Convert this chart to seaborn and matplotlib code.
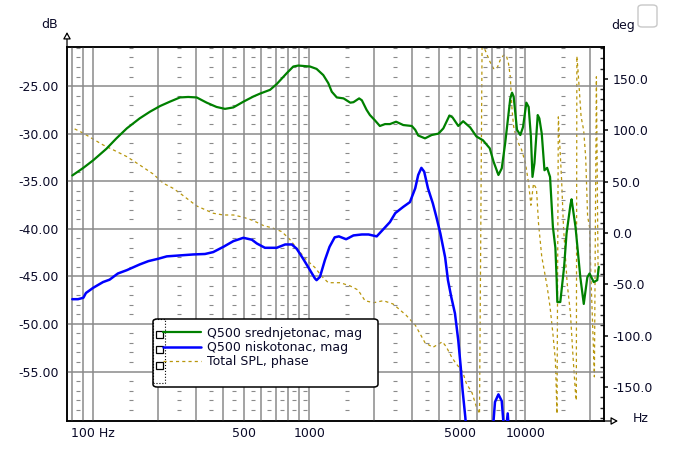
import numpy as np
import pandas as pd
import matplotlib
matplotlib.use("Agg")
import matplotlib.pyplot as plt
from matplotlib.patches import FancyBboxPatch, Rectangle
import seaborn as sns

# Q500 srednjetonac, mag (green, dB)
mid_freq = [80, 90, 100, 115, 128, 143, 164, 183, 204, 226,
            252, 275, 301, 335, 372, 407, 445, 495, 551, 591,
            658, 706, 786, 843, 889, 1007, 1080, 1160, 1224, 1270,
            1340, 1440, 1547, 1600, 1700, 1750, 1840, 1907, 2010, 2120,
            2240, 2360, 2520, 2720, 2980, 3090, 3190, 3430, 3680, 3960,
            4170, 4450, 4600, 4890, 5150, 5550, 5930, 6360, 6840, 7120,
            7500, 7770, 8060, 8510, 8670, 8820, 9140, 9470, 9750, 10100,
            10350, 10600, 10780, 11010, 11400, 11600, 11900, 12250, 12600, 13000,
            13400, 13760, 13950, 14050, 14500, 15100, 15500, 16150, 16350, 17050,
            17950, 18620, 19340, 19800, 20700, 21500, 21860]
mid_db = [-34.4, -33.6, -32.8, -31.6, -30.5, -29.45, -28.4, -27.7, -27.1, -26.65,
          -26.2, -26.15, -26.2, -26.75, -27.2, -27.4, -27.25, -26.65, -26.1, -25.8,
          -25.4, -24.8, -23.65, -22.95, -22.85, -22.95, -23.2, -23.85, -24.7, -25.6,
          -26.2, -26.3, -26.75, -26.7, -26.3, -26.5, -27.5, -28.05, -28.6, -29.2,
          -29.0, -29.0, -28.75, -29.1, -29.2, -29.6, -30.2, -30.5, -30.15, -30.0,
          -29.45, -28.1, -28.3, -29.2, -28.7, -29.35, -30.3, -30.7, -31.55, -32.95,
          -34.35, -33.65, -31.0, -26.3, -25.7, -26.1, -29.6, -30.15, -29.3, -26.75,
          -27.2, -30.3, -34.55, -33.1, -28.05, -28.4, -30.0, -33.85, -33.6, -34.55,
          -39.8, -42.0, -45.4, -47.7, -47.7, -44.0, -40.5, -37.5, -36.9, -39.8,
          -45.1, -47.9, -45.1, -44.7, -45.6, -45.4, -44.0]

# Q500 niskotonac, mag (blue, dB)
low_freq = [80, 85, 90, 92.5, 100, 111, 119, 130, 143, 164,
            180, 200, 219, 252, 290, 329, 359, 400, 445, 495,
            542, 572, 623, 706, 773, 830, 874, 936, 1007, 1060,
            1080, 1120, 1180, 1240, 1310, 1370, 1480, 1600, 1750, 1880,
            2050, 2200, 2360, 2500, 2720, 2920, 3090, 3190, 3300, 3400,
            3540, 3730, 3870, 4040, 4250, 4380, 4540, 4720, 4890, 5020,
            5120, 5270, 5400, 6000, 6800, 7100, 7230, 7500, 7770, 7920,
            8100, 8280, 8400, 9000]
low_db = [-47.4, -47.4, -47.25, -46.75, -46.2, -45.6, -45.35, -44.7, -44.35, -43.75,
          -43.4, -43.15, -42.9, -42.8, -42.7, -42.65, -42.45, -41.9, -41.3, -40.95,
          -41.15, -41.55, -42.0, -42.0, -41.65, -41.65, -42.1, -43.15, -44.35, -45.2,
          -45.4, -45.05, -43.3, -41.9, -40.9, -40.8, -41.1, -40.7, -40.6, -40.6,
          -40.8, -40.05, -39.3, -38.35, -37.7, -37.2, -35.75, -34.35, -33.6, -34.0,
          -35.75, -37.35, -38.75, -40.5, -43.0, -45.4, -47.2, -48.9, -51.75, -54.55,
          -57.0, -59.8, -63.0, -75.0, -66.0, -60.5, -58.2, -57.4, -58.1, -60.5,
          -61.5, -59.4, -61.5, -75.0]

# Total SPL, phase (gold dashed, deg)
phase_freq = [82, 90, 100, 111, 124, 143, 164, 189, 211, 234,
              252, 301, 359, 400, 445, 495, 551, 612, 681, 745,
              811, 874, 971, 1060, 1140, 1224, 1390, 1547, 1680, 1810,
              1980, 2200, 2440, 2800, 3090, 3430, 3730, 4130, 4300, 4540,
              4750, 5120, 5330, 5660, 5930, 6130, 6300, 6510, 6840, 7120,
              7380, 7650, 7920, 8150, 8350, 8510, 8670, 8820, 9150, 9600,
              10000, 10350, 10600, 10900, 11250, 11500, 11900, 12600, 13000, 13400,
              13760, 14000, 14200, 14700, 15000, 15600, 16150, 16600, 17050, 17200,
              17300, 17500, 18100, 18600, 19000, 19400, 19800, 20100, 20400, 20600,
              20850, 21300, 21700]
phase_deg = [101.3, 97.1, 91.3, 85.7, 80.8, 74.3, 66.2, 57.5, 48.4, 43.5,
             38.7, 26.3, 19.2, 17.5, 17.5, 15.3, 12.0, 7.3, 4.6, 1.3,
             -6.1, -14.9, -26.3, -33.5, -42.0, -48.4, -48.4, -51.6, -55.5, -65.9,
             -67.9, -65.9, -69.1, -79.9, -89.6, -106.8, -111.3, -105.9, -110.7, -120.2,
             -126.5, -135.1, -146.4, -155.5, -169.2, -176.0, 181.0, 178.0, 167.0, 160.0,
             160.0, 168.5, 173.0, 173.0, 165.0, 152.0, 120.0, 103.5, 90.0, 81.0,
             68.0, 48.0, 27.0, 48.0, 43.0, 9.0, -23.0, -52.0, -72.0, -98.0,
             -124.0, -176.0, 113.0, 52.0, 6.0, -49.0, -78.0, -120.0, -156.0, -163.0,
             172.0, 159.0, 113.0, 100.0, 74.0, 16.0, 6.0, -43.0, -81.0, -107.0,
             -140.0, 152.0, -43.0]

db_ticks = [-55, -50, -45, -40, -35, -30, -25]
deg_ticks = [-150, -100, -50, 0, 50, 100, 150]
freq_ticks = [100, 500, 1000, 5000, 10000]
freq_labels = ["100 Hz", "500", "1000", "5000", "10000"]
grid_freqs = [80, 90, 100, 200, 300, 400, 500, 600, 700, 800, 900,
              1000, 2000, 3000, 4000, 5000, 6000, 7000, 8000, 9000, 10000, 20000]
half_freqs = [85, 150, 250, 350, 450, 550, 650, 750, 850, 950,
              1500, 2500, 3500, 4500, 5500, 6500, 7500, 8500, 9500, 15000]
labels = ["Q500 srednjetonac, mag", "Q500 niskotonac, mag", "Total SPL, phase"]

GREEN = "#008000"
BLUE = "#0000ff"
GOLD = "#b8960c"
GRID = "#8a8a8a"
TXT = "#0a0a28"

sns.set_theme(style="white")
plt.rcParams["font.family"] = ["DejaVu Sans"]
plt.rcParams["font.size"] = 9

W, H = 689, 469
fig = plt.figure(figsize=(W / 100, H / 100), dpi=100)
ax = fig.add_axes([67 / W, 1 - 421 / H, 537 / W, 374 / H])
ax.set_xscale("log")
ax.set_xlim(75.6, 23100)
ax.set_ylim(-60.2, -20.9)

# grid
for f in grid_freqs:
    ax.axvline(f, color=GRID, lw=1.1, zorder=1)
for d in db_ticks:
    ax.axhline(d, color=GRID, lw=1.1, zorder=1)
minor_db = [d for d in range(-60, -20) if d % 5 != 0]
gx, gy = np.meshgrid(half_freqs, minor_db)
ax.plot(gx.ravel(), gy.ravel(), ls="none", marker="_", ms=3, mew=0.8,
        color=GRID, zorder=1)

sns.lineplot(x=mid_freq, y=mid_db, ax=ax, color=GREEN, lw=1.6,
             sort=False, estimator=None, zorder=3)
sns.lineplot(x=low_freq, y=low_db, ax=ax, color=BLUE, lw=1.8,
             sort=False, estimator=None, zorder=3)

ax.set_yticks(db_ticks)
ax.set_yticklabels([f"{d:.2f}" for d in db_ticks], color=TXT)
ax.set_xticks(freq_ticks)
ax.set_xticklabels(freq_labels, color=TXT)
ax.xaxis.set_minor_locator(matplotlib.ticker.NullLocator())
ax.tick_params(axis="both", length=0, labelsize=9)
ax.tick_params(axis="y", pad=6)
ax.tick_params(axis="x", pad=4)
ax.grid(False)

ax2 = ax.twinx()
sns.lineplot(x=phase_freq, y=phase_deg, ax=ax2, color=GOLD, lw=0.9,
             sort=False, estimator=None, zorder=2)
ax2.lines[0].set_linestyle((0, (2.5, 2.5)))
ax2.set_xlim(75.6, 23100)
ax2.set_ylim(-183, 181)
ax2.set_yticks(deg_ticks)
ax2.set_yticklabels([f"{d:.1f}" for d in deg_ticks], color=TXT)
ax2.set_yticks(np.arange(-180, 181, 10), minor=True)
ax2.tick_params(axis="y", which="major", direction="out", length=3, pad=3, labelsize=9)
ax2.tick_params(axis="y", which="minor", direction="in", length=3)
ax2.grid(False)
ax.set_zorder(ax2.get_zorder() + 1)
ax.patch.set_visible(False)
ax2.patch.set_facecolor("white")
ax2.patch.set_visible(True)

for a in (ax, ax2):
    for s in a.spines.values():
        s.set_color("black")
        s.set_linewidth(1.1)

arrow = dict(arrowstyle="-|>,head_length=0.45,head_width=0.25", fc="white",
             ec="black", lw=0.9, shrinkA=0, shrinkB=0)
ax.annotate("", xy=(0, 1 + 15 / 374), xytext=(0, 1), xycoords="axes fraction",
            arrowprops=arrow, annotation_clip=False)
ax.annotate("", xy=(1 + 14 / 537, 0), xytext=(1, 0), xycoords="axes fraction",
            arrowprops=arrow, annotation_clip=False)

fig.text(50 / W, 1 - 25 / H, "dB", ha="center", va="center", color=TXT, fontsize=9)
fig.text(611 / W, 1 - 25 / H, "deg", ha="left", va="center", color=TXT, fontsize=9)
fig.text(633 / W, 1 - 418 / H, "Hz", ha="left", va="center", color=TXT, fontsize=9)

fig.add_artist(FancyBboxPatch((638 / W, 1 - 27 / H), 19 / W, 22 / H,
                              boxstyle="round,pad=0,rounding_size=0.006",
                              transform=fig.transFigure, ec="#c8c8c8", fc="white", lw=1))

# legend
box = FancyBboxPatch((153 / W, 1 - 387 / H), 225 / W, 68 / H,
                     boxstyle="round,pad=0,rounding_size=0.006",
                     transform=fig.transFigure, ec="black", fc="white", lw=1.1, zorder=4)
fig.add_artist(box)
fig.add_artist(Rectangle((153 / W, 1 - 383 / H), 12 / W, 64 / H, ls=":", lw=0.8,
                         ec="black", fill=False, transform=fig.transFigure, zorder=4.5))
for yc in (334, 349.3, 365.7):
    fig.add_artist(Rectangle((156 / W, 1 - (yc + 3.5) / H), 7 / W, 7 / H, lw=0.9,
                             ec="black", fc="white", transform=fig.transFigure, zorder=4.6))
handles = [ax.lines[-2], ax.lines[-1], ax2.lines[0]]
leg = fig.legend(handles, labels, loc="upper left",
                 bbox_to_anchor=(163 / W, 1 - 326.5 / H), frameon=False,
                 borderpad=0, borderaxespad=0, handlelength=3.0, handletextpad=0.5,
                 labelspacing=0.12, fontsize=9)
leg.set_zorder(5)
for t in leg.get_texts():
    t.set_color(TXT)

fig.savefig("out.png", dpi=100)
